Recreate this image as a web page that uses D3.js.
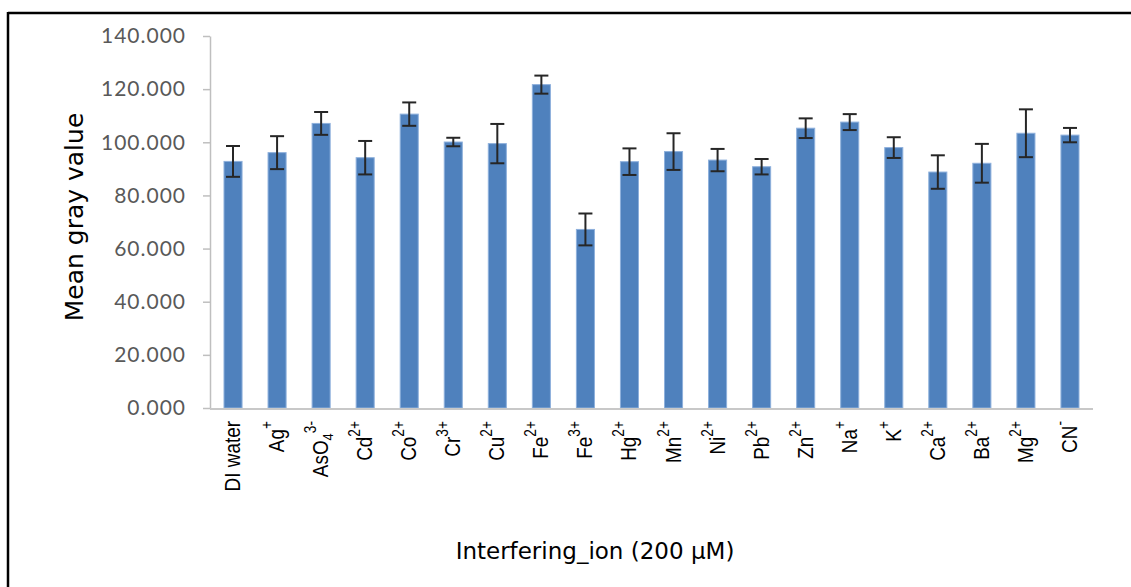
<!DOCTYPE html>
<html>
<head>
<meta charset="utf-8">
<script src="https://cdn.jsdelivr.net/npm/d3@7"></script>
<style>
  html, body { margin: 0; padding: 0; background: #fff; }
  svg { display: block; }
</style>
</head>
<body>
<svg id="chart" width="1131" height="587"></svg>
<script>
// Ion labels: base symbol, subscript and charge (superscript)
const labelBase   = ["DI water", "Ag", "AsO", "Cd", "Co", "Cr", "Cu", "Fe", "Fe", "Hg", "Mn", "Ni", "Pb", "Zn", "Na", "K", "Ca", "Ba", "Mg", "CN"];
const labelSub    = ["", "", "4", "", "", "", "", "", "", "", "", "", "", "", "", "", "", "", "", ""];
const labelCharge = ["", "+", "3-", "2+", "2+", "3+", "2+", "2+", "3+", "2+", "2+", "2+", "2+", "2+", "+", "+", "2+", "2+", "2+", "-"];

// Mean gray value and standard deviation for each ion
const meanValues = [92.8, 96.1, 107.1, 94.2, 110.6, 100.1, 99.5, 121.7, 67.2, 92.7, 96.5, 93.3, 90.8, 105.3, 107.6, 98.0, 88.8, 92.1, 103.4, 102.7];
const errValues  = [5.8, 6.2, 4.3, 6.3, 4.4, 1.6, 7.4, 3.4, 6.0, 5.0, 6.9, 4.2, 2.9, 3.7, 3.0, 3.9, 6.3, 7.3, 9.0, 2.7];

// Y axis ticks
const yTicks = [0, 20, 40, 60, 80, 100, 120, 140];

const svg = d3.select("#chart");

// frame lines
svg.append("line").attr("x1", 8).attr("x2", 1131).attr("y1", 13).attr("y2", 13)
  .attr("stroke", "#000").attr("stroke-width", 2.5);
svg.append("line").attr("x1", 8).attr("x2", 8).attr("y1", 12).attr("y2", 587)
  .attr("stroke", "#000").attr("stroke-width", 2.5);

const idx = d3.range(meanValues.length);
const x = d3.scaleBand().domain(idx).range([211, 1092]).padding(0);
const y = d3.scaleLinear().domain([0, 140]).range([408, 36]);

// y axis
const yAxis = d3.axisLeft(y).tickValues(yTicks).tickFormat(d3.format(".3f"))
  .tickSizeInner(7).tickSizeOuter(0).tickPadding(17);
const gy = svg.append("g").attr("transform", "translate(210,0)").call(yAxis);
gy.select(".domain").attr("stroke", "#bfbfbf").attr("stroke-width", 1.5);
gy.selectAll(".tick line").attr("stroke", "#bfbfbf").attr("stroke-width", 1.5);
gy.selectAll(".tick text")
  .attr("fill", "#595959")
  .style("font-family", "Lato, 'Open Sans', sans-serif")
  .style("font-size", "21px")
  .style("letter-spacing", "1px");

// bars
const barW = x.bandwidth() * 0.41;
svg.append("g").selectAll("rect").data(idx).join("rect")
  .attr("x", i => x(i) + x.bandwidth() / 2 - barW / 2)
  .attr("y", i => y(meanValues[i]))
  .attr("width", barW)
  .attr("height", i => y(0) - y(meanValues[i]))
  .attr("fill", "#4f81bd")
  .attr("stroke", "#8eb0dc")
  .attr("stroke-width", 1);

// x axis line
svg.append("line").attr("x1", 210).attr("x2", 1093)
  .attr("y1", y(0) + 1).attr("y2", y(0) + 1)
  .attr("stroke", "#c8c8c8").attr("stroke-width", 2);

// error bars
const capW = 14;
const eb = svg.append("g").attr("stroke", "#262626").attr("stroke-width", 2);
idx.forEach(i => {
  const cx = x(i) + x.bandwidth() / 2;
  const top = y(meanValues[i] + errValues[i]);
  const bot = y(meanValues[i] - errValues[i]);
  eb.append("line").attr("x1", cx).attr("x2", cx).attr("y1", top).attr("y2", bot);
  eb.append("line").attr("x1", cx - capW / 2).attr("x2", cx + capW / 2).attr("y1", top).attr("y2", top);
  eb.append("line").attr("x1", cx - capW / 2).attr("x2", cx + capW / 2).attr("y1", bot).attr("y2", bot);
});

// category labels, rotated and slightly condensed along the text
const lab = svg.append("g").selectAll("text").data(idx).join("text")
  .attr("transform", i => `translate(${x(i) + x.bandwidth() / 2 + 7},421) rotate(-90) scale(0.86,1)`)
  .attr("text-anchor", "end")
  .attr("fill", "#000")
  .style("font-family", "'Liberation Sans', Arial, sans-serif")
  .style("font-size", "22px");
lab.each(function(i) {
  const t = d3.select(this);
  t.append("tspan").text(labelBase[i]);
  let shift = 0;
  if (labelSub[i]) {
    t.append("tspan").attr("dy", 5).style("font-size", "15px").text(labelSub[i]);
    shift = 5;
  }
  if (labelCharge[i]) {
    t.append("tspan").attr("dy", -12 - shift).style("font-size", "16px").text(labelCharge[i]);
  }
});

// axis titles
svg.append("text")
  .attr("transform", "translate(83,217) rotate(-90)")
  .attr("text-anchor", "middle")
  .style("font-family", "'DejaVu Sans', sans-serif")
  .style("font-size", "25px")
  .attr("fill", "#000")
  .text("Mean gray value");

svg.append("text")
  .attr("x", 595).attr("y", 559)
  .attr("text-anchor", "middle")
  .style("font-family", "'DejaVu Sans', sans-serif")
  .style("font-size", "23px")
  .attr("fill", "#000")
  .text("Interfering_ion (200 μM)");
</script>
</body>
</html>
